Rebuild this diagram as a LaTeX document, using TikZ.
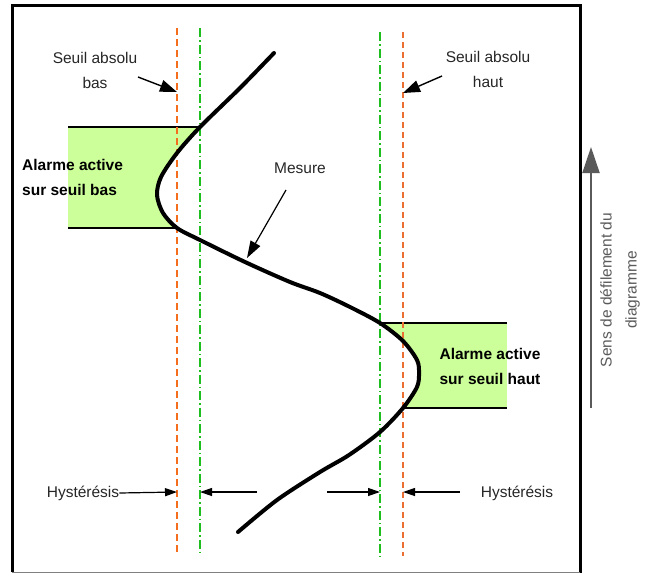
\documentclass[tikz,border=0pt]{standalone}
\usepackage{fontspec}
\setmainfont{Liberation Sans}
\usetikzlibrary{arrows.meta}
\definecolor{orangeL}{RGB}{245,110,30}
\definecolor{orangeT}{RGB}{235,110,50}
\definecolor{greenL}{RGB}{30,190,30}
\definecolor{fillG}{RGB}{204,255,153}
\definecolor{grayA}{RGB}{90,90,90}
\begin{document}
\begin{tikzpicture}[x=1pt,y=-1pt,
  every node/.style={font=\fontsize{15.5}{25}\selectfont, inner sep=0pt},
  lbl/.style={align=center, text=black!85},
  boldlbl/.style={font=\fontsize{15.5}{25}\selectfont\bfseries},
  curvestyle/.style={line width=4, line join=round, line cap=round},
  orangethick/.style={orangeL, line width=2, dash pattern=on 7 off 4},
  orangethin/.style={orangeT, line width=1.2, dash pattern=on 6 off 4},
  greenthin/.style={greenL, line width=1.2, dash pattern=on 9 off 3 on 1.5 off 3},
  greenthick/.style={greenL, line width=2, dash pattern=on 9 off 3 on 1.5 off 3},
  pointer/.style={line width=1.4, -{Triangle[length=17, width=12]}},
  hyst/.style={line width=1.2, -{Triangle[length=12, width=8]}},
  boxline/.style={line width=1.2}
]
\useasboundingbox (0,0) rectangle (655,573);

% green fills, clipped by the curve
\begin{scope}
  \clip plot[smooth] coordinates {(274,53) (240,88) (200,127) (177,153) (161,177) (157,195) (163,213) (177,228) (200,240) (245,262) (290,282) (320,293) (350,307) (380,323) (403,341) (417,360) (419,373) (417,387) (403,408) (380,432) (349,455) (320,472) (277,500) (238,532)} -- (0,532) -- (0,53) -- cycle;
  \fill[fillG] (68,127) rectangle (260,228);
\end{scope}
\begin{scope}
  \clip plot[smooth] coordinates {(274,53) (240,88) (200,127) (177,153) (161,177) (157,195) (163,213) (177,228) (200,240) (245,262) (290,282) (320,293) (350,307) (380,323) (403,341) (417,360) (419,373) (417,387) (403,408) (380,432) (349,455) (320,472) (277,500) (238,532)} -- (655,532) -- (655,53) -- cycle;
  \fill[fillG] (340,323) rectangle (507,408);
\end{scope}

% box edges
\draw[boxline] (68,127) -- (200,127);
\draw[boxline] (68,228) -- (177,228);
\draw[boxline] (380,323) -- (507,323);
\draw[boxline] (403,408) -- (507,408);

% threshold lines
\coordinate (lo1) at (177,28);  \coordinate (lo2) at (177,553);
\coordinate (lg1) at (200,28);  \coordinate (lg2) at (200,552);
\coordinate (rg1) at (380,32);  \coordinate (rg2) at (380,556);
\coordinate (ro1) at (403,32);  \coordinate (ro2) at (403,556);
\draw[orangethick] (lo1) -- (lo2);
\draw[greenthin] (lg1) -- (lg2);
\draw[greenthick] (rg1) -- (rg2);
\draw[orangethin] (ro1) -- (ro2);

% measurement curve
\draw[curvestyle] plot[smooth] coordinates {(274,53) (240,88) (200,127) (177,153) (161,177) (157,195) (163,213) (177,228) (200,240) (245,262) (290,282) (320,293) (350,307) (380,323) (403,341) (417,360) (419,373) (417,387) (403,408) (380,432) (349,455) (320,472) (277,500) (238,532)};

% frame
\draw[line width=3] (12,572) -- (12,5) -- (580,5) -- (580,573);
\draw[gray, line width=1] (12,572) -- (580,572);

% labels
\node[lbl] (sbas) at (95,70) {Seuil absolu\\bas};
\node[lbl] (shaut) at (488,69) {Seuil absolu\\haut};
\node[lbl] (mes) at (300,168) {Mesure};
\node[boldlbl, align=left, anchor=west] (alb) at (22,177) {Alarme active\\sur seuil bas};
\node[boldlbl, align=center] (alh) at (490,366) {Alarme active\\sur seuil haut};
\node[lbl] (hl) at (83,493) {Hystérésis};
\node[lbl] (hr) at (517,493) {Hystérésis};
\node[lbl, text=grayA, rotate=90] (sens) at (620,290) {Sens de défilement du\\diagramme};

% pointers
\coordinate (sbS) at (138,77);  \coordinate (sbT) at (177,92);
\coordinate (shS) at (442,76);  \coordinate (shT) at (403,93);
\coordinate (mS) at (286,190);  \coordinate (mT) at (247,258);
\draw[pointer] (sbS) -- (sbT);
\draw[pointer] (shS) -- (shT);
\draw[line width=1.2, -{Triangle[length=17, width=11]}] (mS) -- (mT);

% hysteresis arrows
\coordinate (h1) at (177,492);
\coordinate (h2s) at (257,492); \coordinate (h2) at (200,492);
\coordinate (h3s) at (327,492); \coordinate (h3) at (380,492);
\coordinate (h4s) at (460,492); \coordinate (h4) at (403,492);
\draw[hyst] (hl.east) -- (h1);
\draw[hyst] (h2s) -- (h2);
\draw[hyst] (h3s) -- (h3);
\draw[hyst] (h4s) -- (h4);

% scroll direction arrow
\coordinate (aS) at (591,408); \coordinate (aT) at (591,147);
\draw[grayA, line width=2, -{Triangle[length=26, width=17]}] (aS) -- (aT);
\end{tikzpicture}
\end{document}
